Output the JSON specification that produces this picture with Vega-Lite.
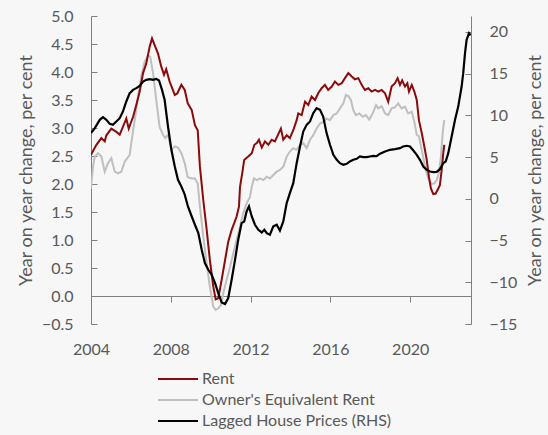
{
 "$schema": "https://vega.github.io/schema/vega-lite/v6.json",
 "width": 380, "height": 308,
 "autosize": {"type": "none"},
 "padding": {"left": 91, "top": 16, "right": 77, "bottom": 111},
 "background": "#f7f7f7",
 "config": {
  "view": {"stroke": null},
  "font": "Lato",
  "axis": {"grid": false, "labelFont": "Lato", "titleFont": "Lato", "labelColor": "#595959", "titleColor": "#595959", "domainColor": "#7f7f7f", "tickColor": "#7f7f7f", "labelFontSize": 16, "titleFontSize": 18, "titleFontWeight": "normal", "labelFlush": false}
 },
 "datasets": {
  "rent": [
   {"t":2004.0,"v":2.52},{"t":2004.27,"v":2.70},{"t":2004.52,"v":2.82},{"t":2004.69,"v":2.76},{"t":2004.77,"v":2.87},{"t":2005.02,"v":2.99},{"t":2005.27,"v":2.93},{"t":2005.44,"v":2.88},{"t":2005.60,"v":3.02},{"t":2005.77,"v":3.17},{"t":2005.89,"v":2.99},{"t":2006.11,"v":3.20},{"t":2006.27,"v":3.41},{"t":2006.44,"v":3.65},{"t":2006.61,"v":3.98},{"t":2006.77,"v":4.15},{"t":2006.94,"v":4.45},{"t":2007.06,"v":4.60},{"t":2007.19,"v":4.48},{"t":2007.36,"v":4.33},{"t":2007.52,"v":4.10},{"t":2007.66,"v":3.95},{"t":2007.77,"v":4.05},{"t":2007.94,"v":3.83},{"t":2008.20,"v":3.59},{"t":2008.33,"v":3.62},{"t":2008.53,"v":3.77},{"t":2008.70,"v":3.68},{"t":2008.85,"v":3.44},{"t":2009.05,"v":3.32},{"t":2009.21,"v":3.05},{"t":2009.35,"v":2.96},{"t":2009.46,"v":2.31},{"t":2009.63,"v":1.71},{"t":2009.80,"v":1.18},{"t":2009.96,"v":0.64},{"t":2010.13,"v":0.17},{"t":2010.25,"v":-0.06},{"t":2010.38,"v":-0.04},{"t":2010.55,"v":0.29},{"t":2010.72,"v":0.64},{"t":2010.88,"v":0.97},{"t":2011.05,"v":1.18},{"t":2011.18,"v":1.30},{"t":2011.30,"v":1.42},{"t":2011.42,"v":1.60},{"t":2011.47,"v":1.95},{"t":2011.58,"v":2.19},{"t":2011.68,"v":2.43},{"t":2011.88,"v":2.49},{"t":2012.06,"v":2.55},{"t":2012.19,"v":2.70},{"t":2012.31,"v":2.73},{"t":2012.42,"v":2.79},{"t":2012.56,"v":2.65},{"t":2012.72,"v":2.76},{"t":2012.89,"v":2.70},{"t":2013.06,"v":2.79},{"t":2013.22,"v":2.76},{"t":2013.39,"v":2.89},{"t":2013.52,"v":2.99},{"t":2013.64,"v":2.79},{"t":2013.81,"v":2.87},{"t":2013.97,"v":2.82},{"t":2014.14,"v":2.96},{"t":2014.31,"v":3.14},{"t":2014.39,"v":3.26},{"t":2014.56,"v":3.23},{"t":2014.73,"v":3.47},{"t":2014.89,"v":3.41},{"t":2015.06,"v":3.56},{"t":2015.23,"v":3.50},{"t":2015.39,"v":3.62},{"t":2015.56,"v":3.71},{"t":2015.73,"v":3.77},{"t":2015.89,"v":3.68},{"t":2016.07,"v":3.74},{"t":2016.23,"v":3.83},{"t":2016.40,"v":3.77},{"t":2016.57,"v":3.80},{"t":2016.73,"v":3.89},{"t":2016.90,"v":3.98},{"t":2017.07,"v":3.92},{"t":2017.23,"v":3.87},{"t":2017.40,"v":3.89},{"t":2017.57,"v":3.77},{"t":2017.73,"v":3.68},{"t":2017.90,"v":3.71},{"t":2018.07,"v":3.65},{"t":2018.24,"v":3.68},{"t":2018.40,"v":3.65},{"t":2018.57,"v":3.68},{"t":2018.74,"v":3.62},{"t":2018.90,"v":3.47},{"t":2019.07,"v":3.74},{"t":2019.24,"v":3.80},{"t":2019.37,"v":3.89},{"t":2019.49,"v":3.77},{"t":2019.60,"v":3.85},{"t":2019.74,"v":3.74},{"t":2019.86,"v":3.80},{"t":2019.94,"v":3.65},{"t":2020.08,"v":3.77},{"t":2020.21,"v":3.65},{"t":2020.33,"v":3.50},{"t":2020.44,"v":3.14},{"t":2020.58,"v":2.91},{"t":2020.71,"v":2.67},{"t":2020.83,"v":2.43},{"t":2020.94,"v":2.13},{"t":2021.04,"v":1.92},{"t":2021.16,"v":1.82},{"t":2021.28,"v":1.83},{"t":2021.41,"v":1.92},{"t":2021.49,"v":1.98},{"t":2021.58,"v":2.25},{"t":2021.66,"v":2.55},{"t":2021.71,"v":2.70}
  ],
  "oer": [
   {"t":2004.0,"v":1.92},{"t":2004.10,"v":2.31},{"t":2004.19,"v":2.49},{"t":2004.35,"v":2.55},{"t":2004.52,"v":2.49},{"t":2004.69,"v":2.22},{"t":2004.85,"v":2.37},{"t":2005.02,"v":2.46},{"t":2005.19,"v":2.22},{"t":2005.35,"v":2.19},{"t":2005.52,"v":2.22},{"t":2005.69,"v":2.40},{"t":2005.94,"v":2.52},{"t":2006.02,"v":2.73},{"t":2006.19,"v":3.14},{"t":2006.36,"v":3.56},{"t":2006.52,"v":3.92},{"t":2006.69,"v":4.18},{"t":2006.86,"v":4.30},{"t":2006.97,"v":4.27},{"t":2007.11,"v":3.98},{"t":2007.27,"v":3.50},{"t":2007.44,"v":3.02},{"t":2007.61,"v":2.88},{"t":2007.72,"v":2.82},{"t":2007.86,"v":2.88},{"t":2008.03,"v":2.61},{"t":2008.20,"v":2.67},{"t":2008.36,"v":2.65},{"t":2008.53,"v":2.55},{"t":2008.70,"v":2.37},{"t":2008.85,"v":2.12},{"t":2009.05,"v":2.10},{"t":2009.21,"v":2.10},{"t":2009.35,"v":2.01},{"t":2009.46,"v":1.60},{"t":2009.63,"v":1.06},{"t":2009.80,"v":0.58},{"t":2009.96,"v":0.17},{"t":2010.13,"v":-0.19},{"t":2010.25,"v":-0.25},{"t":2010.38,"v":-0.22},{"t":2010.52,"v":-0.16},{"t":2010.63,"v":0.05},{"t":2010.80,"v":0.29},{"t":2010.97,"v":0.52},{"t":2011.13,"v":0.76},{"t":2011.30,"v":1.00},{"t":2011.47,"v":1.24},{"t":2011.63,"v":1.48},{"t":2011.80,"v":1.65},{"t":2011.97,"v":1.77},{"t":2012.06,"v":1.95},{"t":2012.17,"v":2.10},{"t":2012.31,"v":2.07},{"t":2012.47,"v":2.10},{"t":2012.64,"v":2.07},{"t":2012.81,"v":2.13},{"t":2012.97,"v":2.10},{"t":2013.14,"v":2.16},{"t":2013.31,"v":2.22},{"t":2013.47,"v":2.25},{"t":2013.64,"v":2.31},{"t":2013.81,"v":2.49},{"t":2013.97,"v":2.58},{"t":2014.14,"v":2.64},{"t":2014.31,"v":2.61},{"t":2014.48,"v":2.70},{"t":2014.64,"v":2.73},{"t":2014.81,"v":2.64},{"t":2014.98,"v":2.79},{"t":2015.14,"v":2.87},{"t":2015.31,"v":2.99},{"t":2015.48,"v":3.08},{"t":2015.64,"v":3.11},{"t":2015.81,"v":3.17},{"t":2015.98,"v":3.14},{"t":2016.15,"v":3.23},{"t":2016.32,"v":3.26},{"t":2016.48,"v":3.35},{"t":2016.65,"v":3.44},{"t":2016.78,"v":3.59},{"t":2016.90,"v":3.57},{"t":2017.03,"v":3.50},{"t":2017.15,"v":3.32},{"t":2017.28,"v":3.23},{"t":2017.45,"v":3.26},{"t":2017.62,"v":3.20},{"t":2017.78,"v":3.23},{"t":2017.95,"v":3.15},{"t":2018.12,"v":3.26},{"t":2018.29,"v":3.41},{"t":2018.40,"v":3.35},{"t":2018.57,"v":3.39},{"t":2018.74,"v":3.26},{"t":2018.90,"v":3.23},{"t":2019.07,"v":3.35},{"t":2019.24,"v":3.37},{"t":2019.40,"v":3.44},{"t":2019.57,"v":3.35},{"t":2019.74,"v":3.38},{"t":2019.90,"v":3.26},{"t":2020.08,"v":3.29},{"t":2020.21,"v":3.11},{"t":2020.33,"v":2.88},{"t":2020.44,"v":2.85},{"t":2020.58,"v":2.61},{"t":2020.71,"v":2.37},{"t":2020.83,"v":2.19},{"t":2020.94,"v":2.07},{"t":2021.08,"v":2.00},{"t":2021.21,"v":2.01},{"t":2021.33,"v":2.07},{"t":2021.44,"v":2.19},{"t":2021.54,"v":2.49},{"t":2021.63,"v":2.91},{"t":2021.71,"v":3.14}
  ],
  "hp": [
   {"t":2004.0,"v":7.87},{"t":2004.19,"v":8.46},{"t":2004.44,"v":9.46},{"t":2004.60,"v":9.78},{"t":2004.77,"v":9.46},{"t":2004.94,"v":8.98},{"t":2005.10,"v":8.86},{"t":2005.27,"v":9.26},{"t":2005.44,"v":9.66},{"t":2005.60,"v":10.46},{"t":2005.77,"v":11.66},{"t":2005.94,"v":12.66},{"t":2006.11,"v":13.05},{"t":2006.27,"v":13.26},{"t":2006.44,"v":13.53},{"t":2006.61,"v":14.05},{"t":2006.77,"v":14.25},{"t":2006.94,"v":14.33},{"t":2007.11,"v":14.25},{"t":2007.27,"v":14.37},{"t":2007.41,"v":14.17},{"t":2007.56,"v":13.05},{"t":2007.69,"v":11.86},{"t":2007.86,"v":8.66},{"t":2008.03,"v":5.87},{"t":2008.20,"v":3.87},{"t":2008.36,"v":2.28},{"t":2008.53,"v":1.47},{"t":2008.70,"v":0.5},{"t":2008.86,"v":-0.92},{"t":2009.05,"v":-2.12},{"t":2009.21,"v":-3.11},{"t":2009.38,"v":-4.11},{"t":2009.55,"v":-6.11},{"t":2009.71,"v":-7.70},{"t":2009.88,"v":-8.50},{"t":2010.05,"v":-9.10},{"t":2010.22,"v":-10.10},{"t":2010.38,"v":-11.30},{"t":2010.55,"v":-12.42},{"t":2010.72,"v":-12.61},{"t":2010.88,"v":-11.89},{"t":2011.05,"v":-9.70},{"t":2011.22,"v":-7.31},{"t":2011.38,"v":-4.91},{"t":2011.55,"v":-2.91},{"t":2011.68,"v":-2.72},{"t":2011.80,"v":-1.52},{"t":2011.92,"v":-0.92},{"t":2012.06,"v":-2.12},{"t":2012.22,"v":-3.11},{"t":2012.39,"v":-3.71},{"t":2012.56,"v":-4.03},{"t":2012.69,"v":-3.71},{"t":2012.81,"v":-4.11},{"t":2012.97,"v":-4.31},{"t":2013.14,"v":-3.31},{"t":2013.31,"v":-3.11},{"t":2013.47,"v":-3.8},{"t":2013.64,"v":-2.7},{"t":2013.81,"v":-0.52},{"t":2013.97,"v":0.68},{"t":2014.14,"v":1.88},{"t":2014.31,"v":4.27},{"t":2014.48,"v":6.26},{"t":2014.64,"v":8.06},{"t":2014.81,"v":8.86},{"t":2014.98,"v":9.26},{"t":2015.14,"v":10.26},{"t":2015.31,"v":10.86},{"t":2015.48,"v":10.66},{"t":2015.64,"v":9.86},{"t":2015.81,"v":7.87},{"t":2015.98,"v":6.47},{"t":2016.15,"v":5.27},{"t":2016.32,"v":4.67},{"t":2016.48,"v":4.27},{"t":2016.65,"v":4.07},{"t":2016.82,"v":4.19},{"t":2016.98,"v":4.47},{"t":2017.15,"v":4.67},{"t":2017.32,"v":4.79},{"t":2017.48,"v":5.07},{"t":2017.65,"v":4.99},{"t":2017.82,"v":4.99},{"t":2017.98,"v":5.07},{"t":2018.15,"v":5.15},{"t":2018.32,"v":5.1},{"t":2018.49,"v":5.40},{"t":2018.74,"v":5.67},{"t":2018.99,"v":5.87},{"t":2019.24,"v":5.95},{"t":2019.49,"v":6.07},{"t":2019.65,"v":6.26},{"t":2019.83,"v":6.35},{"t":2019.99,"v":6.26},{"t":2020.16,"v":5.79},{"t":2020.33,"v":5.27},{"t":2020.49,"v":4.67},{"t":2020.66,"v":3.87},{"t":2020.83,"v":3.47},{"t":2020.99,"v":3.27},{"t":2021.16,"v":3.19},{"t":2021.33,"v":3.23},{"t":2021.49,"v":3.55},{"t":2021.66,"v":4.27},{"t":2021.78,"v":4.47},{"t":2021.91,"v":5.47},{"t":2022.08,"v":7.46},{"t":2022.25,"v":9.46},{"t":2022.41,"v":11.05},{"t":2022.58,"v":13.45},{"t":2022.66,"v":15.05},{"t":2022.75,"v":17.45},{"t":2022.83,"v":19.04},{"t":2022.95,"v":19.84},{"t":2023.03,"v":19.6}
  ]
 },
 "layer": [
  {
   "data": {"name": "oer"},
   "mark": {"type": "line", "strokeWidth": 2, "clip": true},
   "encoding": {
    "x": {"field": "t", "type": "quantitative", "scale": {"domain": [2004, 2023.05], "nice": false, "zero": false},
          "axis": {"title": null, "values": [2004, 2008, 2012, 2016, 2020], "format": "d", "offset": -28, "tickSize": 6, "labelPadding": 39}},
    "y": {"field": "v", "type": "quantitative", "scale": {"domain": [-0.5, 5], "nice": false, "zero": false},
          "axis": {"title": "Year on year change, per cent", "values": [-0.5, 0, 0.5, 1, 1.5, 2, 2.5, 3, 3.5, 4, 4.5, 5], "format": ".1f", "tickSize": -6, "labelPadding": 24, "titlePadding": 6}},
    "color": {"datum": "Owner's Equivalent Rent",
              "scale": {"domain": ["Rent", "Owner's Equivalent Rent", "Lagged House Prices (RHS)"], "range": ["#8b0a0a", "#bfbfbf", "#000000"]},
              "legend": {"orient": "none", "legendX": 76, "legendY": 352, "title": null, "symbolType": "M-2,0L2,0", "symbolSize": 400, "symbolStrokeWidth": 2, "labelFontSize": 16, "labelFont": "Lato", "labelColor": "#595959", "labelOffset": 13, "labelLimit": 0, "rowPadding": 2, "padding": 0}}
   }
  },
  {
   "data": {"name": "rent"},
   "mark": {"type": "line", "strokeWidth": 2, "clip": true},
   "encoding": {
    "x": {"field": "t", "type": "quantitative"},
    "y": {"field": "v", "type": "quantitative", "scale": {"domain": [-0.5, 5], "nice": false, "zero": false}, "axis": null},
    "color": {"datum": "Rent"}
   }
  },
  {
   "data": {"name": "hp"},
   "mark": {"type": "line", "strokeWidth": 2.2, "clip": true},
   "encoding": {
    "x": {"field": "t", "type": "quantitative"},
    "y": {"field": "v", "type": "quantitative", "scale": {"domain": [-15, 21.9], "nice": false, "zero": false},
          "axis": {"orient": "right", "title": "Year on year change, per cent", "titleAngle": 270, "titleBaseline": "top", "values": [-15, -10, -5, 0, 5, 10, 15, 20], "format": "d", "tickSize": -6, "labelPadding": 24, "titlePadding": 10}},
    "color": {"datum": "Lagged House Prices (RHS)"}
   }
  }
 ],
 "resolve": {"scale": {"y": "independent"}}
}
